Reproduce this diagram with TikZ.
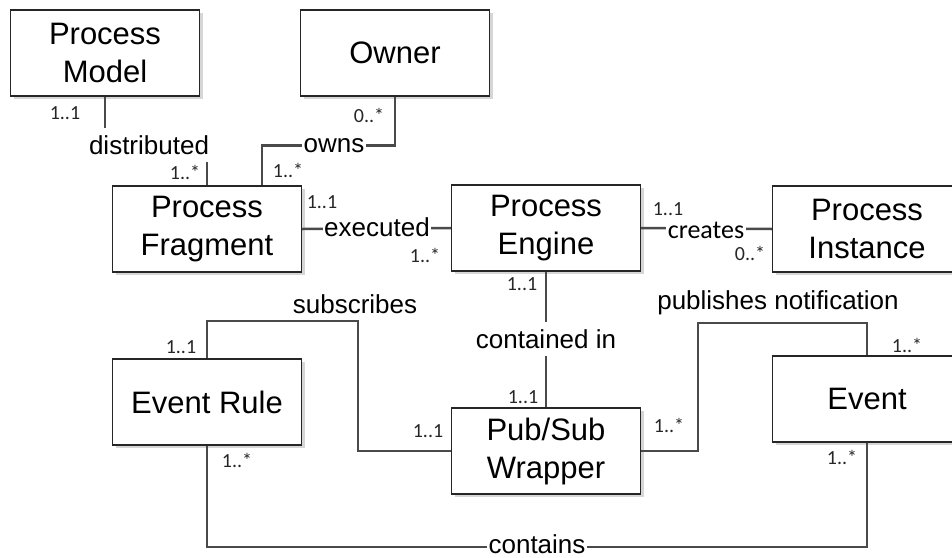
\documentclass[tikz,border=0pt]{standalone}
\usepackage{fontspec}
\setmainfont{Liberation Sans}
\newfontfamily\multfont{Carlito}
\usetikzlibrary{shadows,calc}
\definecolor{linegray}{HTML}{4A4A4A}
\definecolor{shadowgray}{HTML}{D6D6D6}
\begin{document}
\begin{tikzpicture}[x=1pt,y=-1pt,
  entity/.style={draw=black!85, line width=1.2pt, fill=white,
    minimum width=189pt, minimum height=86pt, inner sep=0pt, align=center,
    font=\fontsize{31}{38}\selectfont,
    drop shadow={shadow xshift=3pt, shadow yshift=-3pt, fill=shadowgray, opacity=1}},
  conn/.style={draw=linegray, line width=2.5pt},
  relh/.style={fill=white, inner xsep=1.5pt, inner ysep=1pt,
    font=\fontsize{26}{30}\selectfont},
  relv/.style={relh, inner ysep=0pt, minimum height=34pt},
  reltop/.style={inner sep=0pt, font=\fontsize{26}{30}\selectfont},
  mult/.style={inner sep=0pt, font=\multfont\fontsize{20}{24}\selectfont, text=black!85},
]
\clip (0,0) rectangle (952,557);

% entities
\node[entity] (pm) at (105,53)    {Process\\Model};
\node[entity] (ow) at (395,53)    {Owner};
\node[entity] (pf) at (207,229)   {Process\\Fragment};
\node[entity] (pe) at (546,228)   {Process\\Engine};
\node[entity] (pi) at (867,229)   {Process\\Instance};
\node[entity] (er) at (207,402)   {Event Rule};
\node[entity] (ps) at (546,451)   {Pub/Sub\\Wrapper};
\node[entity] (ev) at (867,399)   {Event};

% bend points of the orthogonal connectors
\coordinate (pfo) at ($(pf.north)+(55,0)$);
\coordinate (sbk) at (358,321);
\coordinate (pbk) at (698,323);
\coordinate (cbk) at (207,547);

% connectors
\draw[conn] (pm.south) |- (156,145) -| (pf.north);
\draw[conn] (ow.south) -- ++(0,49) -| (pfo);
\draw[conn] (pf.east) -- (pe.west);
\draw[conn] (pe.east) -- (pi.west);
\draw[conn] (pe.south) -- (ps.north);
\draw[conn] (er.north) |- (sbk) |- (ps.west);
\draw[conn] (ps.east) -| (pbk) -| (ev.north);
\draw[conn] (er.south) -- (cbk) -| (ev.south);

% association names
\node[relv] (ldist) at (149,145) {distributed};
\node[relh] (lowns) at (334,146) {owns};
\node[relh] (lexec) at (377,227) {executed};
\node[relh, font=\multfont\fontsize{26}{30}\selectfont] (lcrea) at (706,230) {creates};
\node[relv] (lcont) at (546,339) {contained in};
\node[relh] (lcons) at (537,544) {contains};
\node[reltop] (lsubs) at (355,304) {subscribes};
\node[reltop] (lpub)  at (778,303) {publishes notification};

% multiplicities
\node[mult] (m1)  at (65,113)  {1..1};
\node[mult] (m2)  at (185,172) {1..*};
\node[mult] (m3)  at (369,115) {0..*};
\node[mult] (m4)  at (288,170) {1..*};
\node[mult] (m5)  at (322,202) {1..1};
\node[mult] (m6)  at (425,255) {1..*};
\node[mult] (m7)  at (668,209) {1..1};
\node[mult] (m8)  at (750,253) {0..*};
\node[mult] (m9)  at (522,284) {1..1};
\node[mult] (m10) at (523,397) {1..1};
\node[mult] (m11) at (181,347) {1..1};
\node[mult] (m12) at (428,431) {1..1};
\node[mult] (m13) at (907,345) {1..*};
\node[mult] (m14) at (669,425) {1..*};
\node[mult] (m15) at (237,460) {1..*};
\node[mult] (m16) at (842,457) {1..*};
\end{tikzpicture}
\end{document}
